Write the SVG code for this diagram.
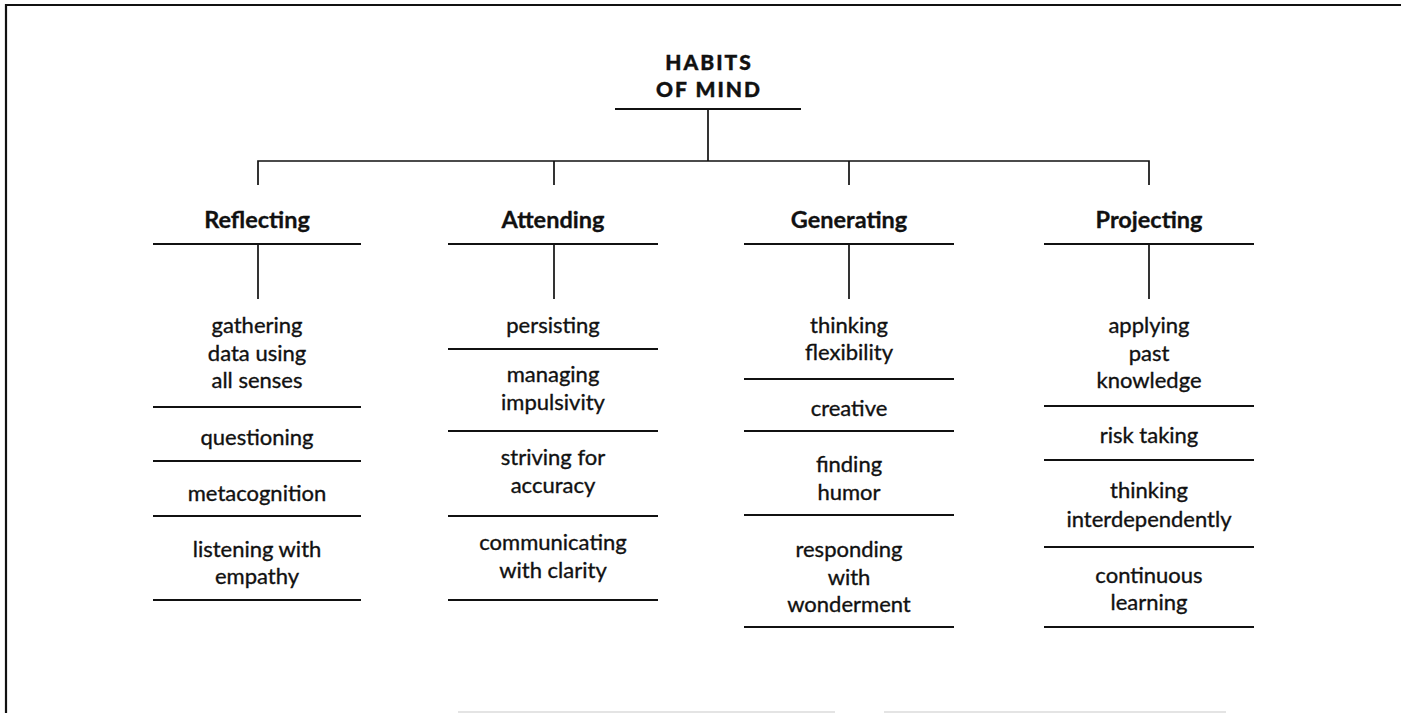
<svg xmlns="http://www.w3.org/2000/svg" width="1401" height="713" viewBox="0 0 1401 713">
<style>
.t{font-family:Lato,"Open Sans","Liberation Sans",sans-serif;font-size:22px;fill:#111;stroke:#111;stroke-width:0.35;text-anchor:middle}
.b{font-weight:bold;font-size:23.5px;stroke-width:0.3}
.h{font-weight:900;font-size:21px;letter-spacing:2px;stroke-width:0.4}
.ln{stroke:#111;stroke-width:2.2;fill:none}
.cn{stroke:#111;stroke-width:1.7;fill:none}
</style>
<rect width="1401" height="713" fill="#fff"/>
<g id="frame">
<path class="ln" d="M6,713 V5 H1401"/>
<path d="M458,712 H835 M884,712 H1226" stroke="#e4e4e4" stroke-width="2"/>
</g>
<g id="connectors">
<path class="cn" d="M708,109 V161 M258,185 V161 H1149 V185 M554,161 V185 M849,161 V185"/>
<path class="cn" d="M258,244 V299 M554,244 V299 M849,244 V299 M1149,244 V299"/>
</g>
<g id="root">
<text class="t h" x="709" y="70">HABITS</text>
<text class="t h" x="709" y="97">OF MIND</text>
<path class="ln" d="M615,109 H801"/>
</g>
<g id="reflecting">
<text class="t b" x="257" y="228">Reflecting</text>
<path class="ln" d="M153,244 H361"/>
<text class="t" x="257" y="333">gathering</text>
<text class="t" x="257" y="361">data using</text>
<text class="t" x="257" y="388">all senses</text>
<path class="ln" d="M153,407 H361"/>
<text class="t" x="257" y="445">questioning</text>
<path class="ln" d="M153,461 H361"/>
<text class="t" x="257" y="501">metacognition</text>
<path class="ln" d="M153,516 H361"/>
<text class="t" x="257" y="557">listening with</text>
<text class="t" x="257" y="584">empathy</text>
<path class="ln" d="M153,600 H361"/>
</g>
<g id="attending">
<text class="t b" x="553" y="228">Attending</text>
<path class="ln" d="M448,244 H658"/>
<text class="t" x="553" y="333">persisting</text>
<path class="ln" d="M448,349 H658"/>
<text class="t" x="553" y="382">managing</text>
<text class="t" x="553" y="410">impulsivity</text>
<path class="ln" d="M448,431 H658"/>
<text class="t" x="553" y="465">striving for</text>
<text class="t" x="553" y="493">accuracy</text>
<path class="ln" d="M448,516 H658"/>
<text class="t" x="553" y="550">communicating</text>
<text class="t" x="553" y="578">with clarity</text>
<path class="ln" d="M448,600 H658"/>
</g>
<g id="generating">
<text class="t b" x="849" y="228">Generating</text>
<path class="ln" d="M744,244 H954"/>
<text class="t" x="849" y="333">thinking</text>
<text class="t" x="849" y="360">flexibility</text>
<path class="ln" d="M744,379 H954"/>
<text class="t" x="849" y="416">creative</text>
<path class="ln" d="M744,431 H954"/>
<text class="t" x="849" y="472">finding</text>
<text class="t" x="849" y="500">humor</text>
<path class="ln" d="M744,515 H954"/>
<text class="t" x="849" y="557">responding</text>
<text class="t" x="849" y="585">with</text>
<text class="t" x="849" y="612">wonderment</text>
<path class="ln" d="M744,627 H954"/>
</g>
<g id="projecting">
<text class="t b" x="1149" y="228">Projecting</text>
<path class="ln" d="M1044,244 H1254"/>
<text class="t" x="1149" y="333">applying</text>
<text class="t" x="1149" y="361">past</text>
<text class="t" x="1149" y="388">knowledge</text>
<path class="ln" d="M1044,406 H1254"/>
<text class="t" x="1149" y="443">risk taking</text>
<path class="ln" d="M1044,460 H1254"/>
<text class="t" x="1149" y="498">thinking</text>
<text class="t" x="1149" y="527">interdependently</text>
<path class="ln" d="M1044,547 H1254"/>
<text class="t" x="1149" y="583">continuous</text>
<text class="t" x="1149" y="610">learning</text>
<path class="ln" d="M1044,627 H1254"/>
</g>
</svg>
